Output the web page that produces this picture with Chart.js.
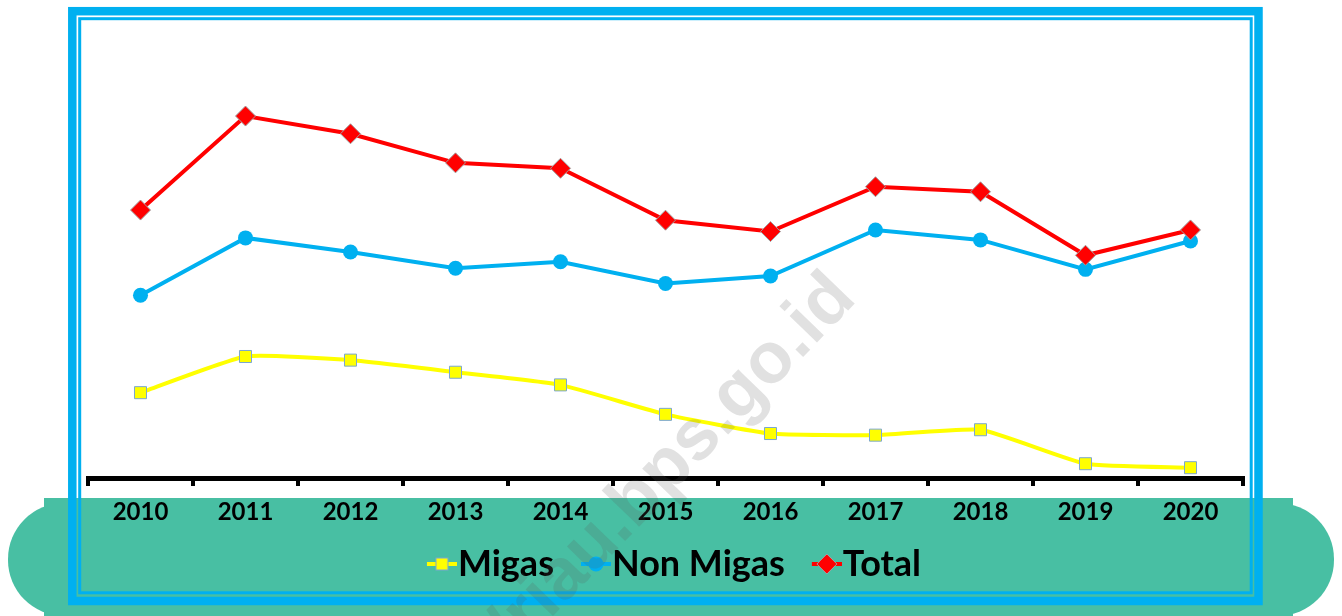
<!DOCTYPE html>
<html>
<head>
<meta charset="utf-8">
<script src="https://cdn.jsdelivr.net/npm/chart.js@4.4.1/dist/chart.umd.min.js"></script>
<style>
  html, body { margin: 0; padding: 0; background: #fff; }
</style>
</head>
<body>
<canvas id="exportChart" width="1342" height="616"></canvas>
<script>
// Ekspor Riau (juta US$)
const years = ['2010', '2011', '2012', '2013', '2014', '2015', '2016', '2017', '2018', '2019', '2020'];
const migas = [4720, 6720, 6520, 5850, 5150, 3520, 2460, 2370, 2670, 790, 570];
const nonMigas = [10110, 13280, 12500, 11600, 11960, 10760, 11170, 13720, 13170, 11540, 13110];
const total = [14820, 20020, 19040, 17430, 17130, 14260, 13630, 16110, 15830, 12320, 13720];
const seriesNames = ['Migas', 'Non Migas', 'Total'];

const TEAL = '#48BFA3';
const FRAME_BLUE = '#00B0F0';

// small legend icon: line with marker in the middle, drawn on the right part of the canvas
function legendIcon(color, marker) {
    const w = 64;
    const c = document.createElement('canvas');
    c.width = w;
    c.height = 26;
    const g = c.getContext('2d');
    const cx = w - 15, cy = 13;
    g.strokeStyle = color;
    g.lineWidth = 4;
    g.beginPath();
    g.moveTo(w - 30, cy);
    g.lineTo(w, cy);
    g.stroke();
    g.fillStyle = color;
    if (marker === 'rect') {
        g.fillRect(cx - 6, cy - 6, 12, 12);
        g.strokeStyle = '#7BA7D0';
        g.lineWidth = 1;
        g.strokeRect(cx - 6, cy - 6, 12, 12);
    } else if (marker === 'circle') {
        g.beginPath();
        g.arc(cx, cy, 7.5, 0, Math.PI * 2);
        g.fill();
    } else {
        g.beginPath();
        g.moveTo(cx - 10, cy);
        g.lineTo(cx, cy - 10);
        g.lineTo(cx + 10, cy);
        g.lineTo(cx, cy + 10);
        g.closePath();
        g.fill();
        g.strokeStyle = '#A0A0A0';
        g.lineWidth = 1;
        g.stroke();
    }
    return c;
}

const icons = [
    legendIcon('#FFFF00', 'rect'),
    legendIcon(FRAME_BLUE, 'circle'),
    legendIcon('#FF0000', 'diamond')
];

const backdrop = {
    id: 'backdrop',
    beforeDraw(chart) {
        const ctx = chart.ctx;
        ctx.save();
        ctx.fillStyle = '#fff';
        ctx.fillRect(0, 0, chart.width, chart.height);
        // teal band behind axis labels and legend
        ctx.fillStyle = TEAL;
        ctx.beginPath();
        ctx.roundRect(8, 503, 1326, 113, 56);
        ctx.fill();
        ctx.fillRect(44, 498, 1249, 118);
        // double blue frame
        ctx.strokeStyle = FRAME_BLUE;
        ctx.lineWidth = 8.5;
        ctx.strokeRect(72.3, 11.2, 1258.5 - 72.3, 601 - 11.2);
        ctx.lineWidth = 3;
        ctx.strokeRect(79.7, 18.7, 1251.2 - 79.7, 592.8 - 18.7);
        ctx.restore();
    },
    afterDraw(chart) {
        const ctx = chart.ctx;
        ctx.save();
        ctx.translate(858, 300);
        ctx.rotate(-46 * Math.PI / 180);
        ctx.font = 'bold 72px "Liberation Sans"';
        ctx.textAlign = 'right';
        ctx.textBaseline = 'alphabetic';
        ctx.fillStyle = 'rgba(90, 90, 90, 0.18)';
        ctx.fillText('http://riau.bps.go.id', 0, 0);
        ctx.restore();
    }
};

new Chart(document.getElementById('exportChart'), {
    type: 'line',
    data: {
        labels: years,
        datasets: [{
            label: seriesNames[0],
            data: migas,
            borderColor: '#FFFF00',
            backgroundColor: '#FFFF00',
            borderWidth: 4,
            tension: 0.15,
            pointStyle: 'rect',
            pointRadius: 8.5,
            pointBorderColor: '#7BA7D0',
            pointBorderWidth: 1,
            order: 3
        }, {
            label: seriesNames[1],
            data: nonMigas,
            borderColor: FRAME_BLUE,
            backgroundColor: FRAME_BLUE,
            borderWidth: 4,
            tension: 0,
            pointStyle: 'circle',
            pointRadius: 7.5,
            pointBorderWidth: 0,
            order: 2
        }, {
            label: seriesNames[2],
            data: total,
            borderColor: '#FF0000',
            backgroundColor: '#FF0000',
            borderWidth: 4,
            tension: 0,
            pointStyle: 'rectRot',
            pointRadius: 10,
            pointBorderColor: '#A0A0A0',
            pointBorderWidth: 1,
            order: 1
        }]
    },
    options: {
        responsive: false,
        animation: false,
        devicePixelRatio: 1,
        layout: {
            padding: { top: 26, left: 88, right: 99, bottom: 24 }
        },
        plugins: {
            tooltip: { enabled: false },
            legend: {
                position: 'bottom',
                labels: {
                    usePointStyle: true,
                    pointStyleWidth: 30,
                    padding: 10,
                    color: '#000',
                    font: { family: 'Lato', weight: 'bold', size: 36 },
                    sort: (a, b) => a.datasetIndex - b.datasetIndex,
                    generateLabels: function(chart) {
                        const items = Chart.defaults.plugins.legend.labels.generateLabels(chart);
                        items.forEach(item => {
                            item.pointStyle = icons[item.datasetIndex];
                        });
                        return items;
                    }
                }
            }
        },
        scales: {
            x: {
                offset: true,
                grid: {
                    offset: true,
                    drawOnChartArea: false,
                    drawTicks: true,
                    tickLength: 8,
                    color: '#000',
                    lineWidth: 4
                },
                border: { color: '#000', width: 5 },
                ticks: {
                    color: '#000',
                    padding: 12,
                    maxRotation: 0,
                    autoSkip: false,
                    font: { family: 'Lato', weight: 'bold', size: 24 }
                },
                afterFit: function(scale) {
                    scale.height = 58;
                }
            },
            y: {
                display: false,
                min: 0,
                max: 25000
            }
        }
    },
    plugins: [backdrop]
});
</script>
</body>
</html>
